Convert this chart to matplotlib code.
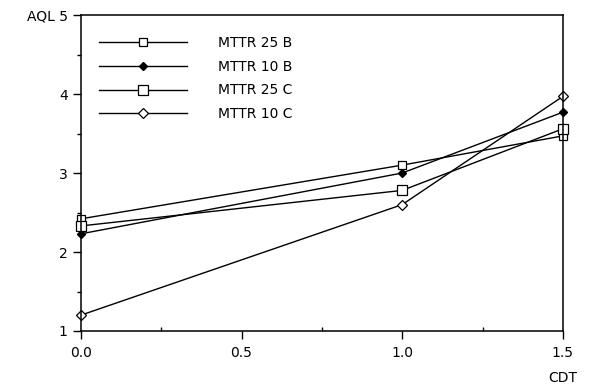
import numpy as np
import matplotlib.pyplot as plt
from matplotlib.ticker import MultipleLocator

# CDT values on the x axis
cdt = [0.0, 1.0, 1.5]

# AQL for each series
mttr25_b = [2.42, 3.10, 3.47]
mttr10_b = [2.23, 3.00, 3.77]
mttr25_c = [2.33, 2.78, 3.56]
mttr10_c = [1.20, 2.60, 3.97]

labels = ["MTTR 25 B", "MTTR 10 B", "MTTR 25 C", "MTTR 10 C"]

plt.rcParams["font.family"] = "DejaVu Sans"

fig = plt.figure(figsize=(5.9, 3.86), dpi=100)
ax = fig.add_axes([0.137, 0.1425, 0.817, 0.8185])

ax.plot(cdt, mttr25_b, color="black", lw=1, marker="s", ms=5.5,
        mfc="white", mec="black", mew=0.9, label=labels[0], clip_on=False)
ax.plot(cdt, mttr10_b, color="black", lw=1, marker="D", ms=4.5,
        mfc="black", mec="black", label=labels[1], clip_on=False)
ax.plot(cdt, mttr25_c, color="black", lw=1, marker="s", ms=7,
        mfc="white", mec="black", mew=0.9, label=labels[2], clip_on=False)
ax.plot(cdt, mttr10_c, color="black", lw=1, marker="D", ms=5.5,
        mfc="white", mec="black", mew=0.9, label=labels[3], clip_on=False)

ax.set_xlim(0, 1.5)
ax.set_ylim(1, 5)

ax.xaxis.set_minor_locator(MultipleLocator(0.25))
ax.yaxis.set_minor_locator(MultipleLocator(0.5))

ax.set_xticks([0, 0.5, 1.0, 1.5])
ax.set_xticklabels(["0.0", "0.5", "1.0", "1.5"])
ax.set_yticks([1, 2, 3, 4, 5])
ax.set_yticklabels(["1", "2", "3", "4", "AQL 5"])

ax.tick_params(axis="both", which="major", direction="out", length=6,
               width=1, labelsize=10, colors="black")
ax.tick_params(axis="y", which="minor", direction="out", length=3, width=1)
ax.tick_params(axis="x", which="minor", direction="in", length=3, width=1)
ax.tick_params(axis="x", which="major", pad=5)

# axis title under the last x tick label
ax.annotate("CDT", xy=(1.5, 0), xycoords=("data", "axes fraction"),
            xytext=(0, -34), textcoords="offset points", ha="center",
            va="center", fontsize=10)

for s in ax.spines.values():
    s.set_linewidth(1.1)

ax.legend(loc="upper left", bbox_to_anchor=(99 / 590, (386 - 36) / 386),
          bbox_transform=fig.transFigure, frameon=False, fontsize=10,
          handlelength=6.3, handletextpad=2.3, labelspacing=0.7,
          borderpad=0, borderaxespad=0)

fig.savefig("out.png", dpi=100)
